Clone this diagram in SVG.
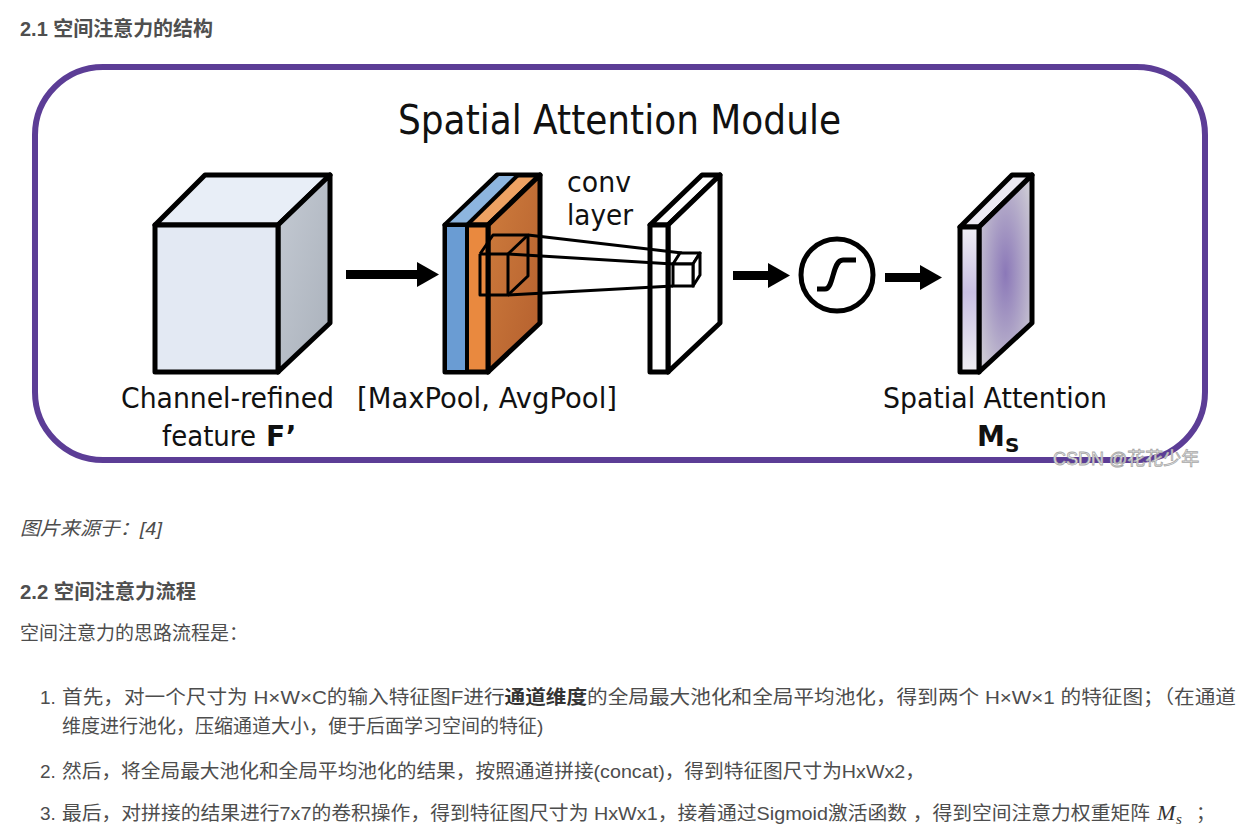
<svg xmlns="http://www.w3.org/2000/svg" width="1246" height="836" viewBox="0 0 1246 836">
<defs>
<style>
.pg{font-family:"Liberation Sans","Noto Sans CJK SC",sans-serif;font-size:19px;fill:#4d4d4d}
.hd{font-family:"Liberation Sans","Noto Sans CJK SC",sans-serif;font-size:20px;font-weight:bold;fill:#4f4f4f}
.lb{font-family:"DejaVu Sans",sans-serif;font-size:28px;fill:#111}
.ttl{font-family:"DejaVu Sans",sans-serif;font-size:40px;fill:#111}
.blk{stroke:#000;stroke-width:5;stroke-linejoin:round}
.thin{stroke:#000;stroke-width:3;fill:none;stroke-linejoin:round}
.arr{fill:#000}
</style>
<linearGradient id="cubeSide" x1="0" y1="0" x2="1" y2="1"><stop offset="0" stop-color="#c4cad3"/><stop offset="1" stop-color="#aab1bb"/></linearGradient>
<linearGradient id="orSide" x1="0" y1="0" x2="1" y2="1"><stop offset="0" stop-color="#cf7d3d"/><stop offset="1" stop-color="#b45f2e"/></linearGradient>
<linearGradient id="msFront" x1="0" y1="0" x2="0" y2="1"><stop offset="0" stop-color="#eeedf3"/><stop offset="0.45" stop-color="#c8bfe3"/><stop offset="1" stop-color="#efeef2"/></linearGradient>
<radialGradient id="msSide" cx="0.5" cy="0.5" r="0.6"><stop offset="0" stop-color="#8b78b8"/><stop offset="1" stop-color="#cbc8d3"/></radialGradient>
</defs>
<rect width="1246" height="836" fill="#fff"/>

<g id="page-text">
<text class="hd" x="20" y="36" textLength="193" lengthAdjust="spacingAndGlyphs">2.1 空间注意力的结构</text>
<text class="pg" x="20" y="535" font-style="italic" textLength="142" lengthAdjust="spacingAndGlyphs">图片来源于：[4]</text>
<text class="hd" x="20" y="599" textLength="176" lengthAdjust="spacingAndGlyphs">2.2 空间注意力流程</text>
<text class="pg" x="20" y="640">空间注意力的思路流程是：</text>
<text class="pg" x="40" y="704">1.</text>
<text class="pg" x="62" y="704" textLength="1174" lengthAdjust="spacingAndGlyphs">首先，对一个尺寸为 H×W×C的输入特征图F进行<tspan font-weight="bold" fill="#333">通道维度</tspan>的全局最大池化和全局平均池化，得到两个 H×W×1 的特征图；（在通道</text>
<text class="pg" x="62" y="733">维度进行池化，压缩通道大小，便于后面学习空间的特征)</text>
<text class="pg" x="40" y="778">2.</text>
<text class="pg" x="62" y="778" textLength="863" lengthAdjust="spacingAndGlyphs">然后，将全局最大池化和全局平均池化的结果，按照通道拼接(concat)，得到特征图尺寸为HxWx2，</text>
<text class="pg" x="40" y="820">3.</text>
<text class="pg" x="62" y="820" textLength="1088" lengthAdjust="spacingAndGlyphs">最后，对拼接的结果进行7x7的卷积操作，得到特征图尺寸为 HxWx1，接着通过Sigmoid激活函数 ，得到空间注意力权重矩阵</text>
<text x="1157" y="820" font-family="Liberation Serif,serif" font-style="italic" font-size="22" fill="#333">M</text>
<text x="1176" y="824" font-family="Liberation Serif,serif" font-style="italic" font-size="15" fill="#333">s</text>
<text class="pg" x="1196" y="820">；</text>
</g>

<g id="frame">
<rect x="35" y="67" width="1170" height="393" rx="68" ry="68" fill="none" stroke="#5c3d96" stroke-width="6"/>
<text class="ttl" x="398" y="134" textLength="443" lengthAdjust="spacingAndGlyphs">Spatial Attention Module</text>
</g>

<g id="node-input">
<polygon class="blk" points="155,225 278,225 330,175 205,175" fill="#e8eef7"/>
<polygon class="blk" points="278,225 330,175 330,323 278,372" fill="url(#cubeSide)"/>
<rect class="blk" x="155" y="225" width="123" height="147" fill="#e3e9f3"/>
<text class="lb" x="121" y="408" textLength="213" lengthAdjust="spacingAndGlyphs">Channel-refined</text>
<text class="lb" x="162" y="446" textLength="94" lengthAdjust="spacingAndGlyphs">feature</text>
<text class="lb" x="266" y="446" font-weight="bold">F’</text>
</g>

<g id="node-pool">
<polygon class="blk" points="445,225 488,225 540,175 497,175" fill="#eea263"/>
<polygon points="447,225 466,225 517,176 499,176" fill="#8db5df"/>
<line x1="467" y1="225" x2="518" y2="175" stroke="#000" stroke-width="4"/>
<polygon class="blk" points="488,225 540,175 540,323 488,372" fill="url(#orSide)"/>
<rect class="blk" x="445" y="225" width="43" height="147" fill="#e9893f"/>
<rect x="447" y="227" width="19" height="143" fill="#6a9cd3"/>
<line x1="467" y1="225" x2="467" y2="372" stroke="#000" stroke-width="4"/>
<text class="lb" x="357" y="408" textLength="260" lengthAdjust="spacingAndGlyphs">[MaxPool, AvgPool]</text>
</g>

<g id="node-conv">
<polygon class="blk" points="650,225 668,225 720,175 702,175" fill="#fff"/>
<polygon class="blk" points="668,225 720,175 720,323 668,372" fill="#fff"/>
<rect class="blk" x="650" y="225" width="18" height="147" fill="#fff"/>
<text class="lb" x="567" y="192" textLength="64" lengthAdjust="spacingAndGlyphs">conv</text>
<text class="lb" x="567" y="225" textLength="66" lengthAdjust="spacingAndGlyphs">layer</text>
</g>

<g id="node-sigmoid">
<circle cx="837" cy="275" r="36" fill="#fff" stroke="#000" stroke-width="5"/>
<path d="M817,289 H825 C834,289 832,260 843,260 H856" fill="none" stroke="#000" stroke-width="5" stroke-linejoin="round"/>
</g>

<g id="node-output">
<polygon class="blk" points="960,227 979,227 1032,175 1012,175" fill="#ebe9f1"/>
<polygon class="blk" points="979,227 1032,175 1032,323 979,372" fill="url(#msSide)"/>
<rect class="blk" x="960" y="227" width="19" height="145" fill="url(#msFront)"/>
<text class="lb" x="883" y="408" textLength="224" lengthAdjust="spacingAndGlyphs">Spatial Attention</text>
<text class="lb" x="977" y="446" font-weight="bold">M<tspan font-size="20" dy="6">S</tspan></text>
</g>

<g id="connectors">
<rect class="arr" x="346" y="270" width="74" height="9"/>
<polygon class="arr" points="417,262 439,274.5 417,287"/>
<polyline class="thin" points="480,254 508,254 508,295 480,295 480,254"/>
<polyline class="thin" points="480,254 493,235 528,235 528,276 508,295"/>
<line class="thin" x1="508" y1="254" x2="528" y2="235"/>
<line class="thin" x1="528" y1="235" x2="682" y2="253"/>
<line class="thin" x1="508" y1="254" x2="673" y2="264"/>
<line class="thin" x1="508" y1="295" x2="673" y2="286"/>
<polygon points="673,264 693,264 700,253 680,253" fill="#fff" stroke="#000" stroke-width="3" stroke-linejoin="round"/>
<polygon points="693,264 700,253 700,275 693,286" fill="#fff" stroke="#000" stroke-width="3" stroke-linejoin="round"/>
<rect x="673" y="264" width="20" height="22" fill="#fff" stroke="#000" stroke-width="3"/>
<rect class="arr" x="733" y="271" width="38" height="9"/>
<polygon class="arr" points="768,263 790,275.5 768,288"/>
<rect class="arr" x="885" y="273" width="38" height="9"/>
<polygon class="arr" points="920,265 942,277.5 920,290"/>
</g>

<g id="watermark">
<text x="1053" y="465" font-family="Liberation Sans,'Noto Sans CJK SC',sans-serif" font-size="18" fill="#f2f2f2" stroke="#a8a8a8" stroke-width="0.8">CSDN @花花少年</text>
</g>
</svg>
